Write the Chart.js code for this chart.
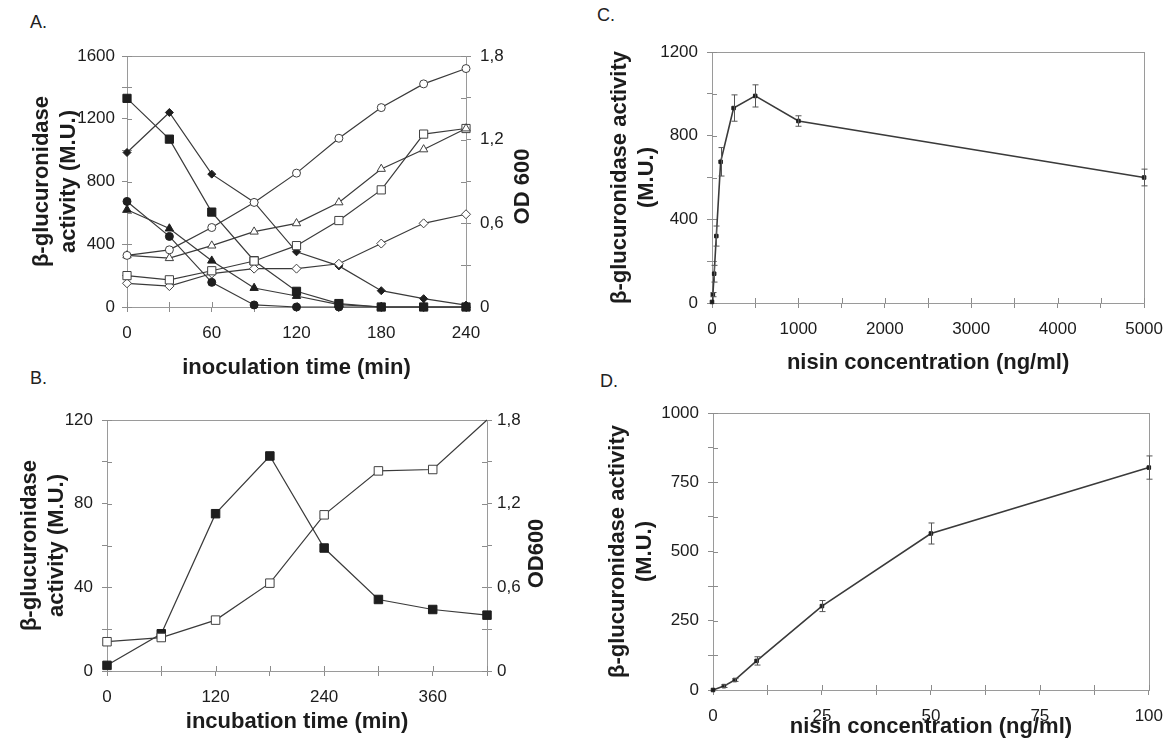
<!DOCTYPE html>
<html><head><meta charset="utf-8">
<script src="https://cdn.jsdelivr.net/npm/chart.js@4/dist/chart.umd.min.js"></script>
<style>
html,body{margin:0;padding:0;background:#fff;overflow:hidden;width:1174px;height:743px;position:relative;}
canvas{position:absolute;}
.lbl{position:absolute;font-family:'Liberation Sans',Arial,sans-serif;font-size:18px;color:#222;line-height:1;}
</style></head><body>
<div class="lbl" style="left:30px;top:13px">A.</div>
<div class="lbl" style="left:30px;top:369px">B.</div>
<div class="lbl" style="left:597px;top:6px">C.</div>
<div class="lbl" style="left:600px;top:372px">D.</div>
<canvas id="cA" width="580" height="380" style="left:0;top:0;width:580px;height:380px"></canvas>
<canvas id="cB" width="580" height="363" style="left:0;top:380px;width:580px;height:363px"></canvas>
<canvas id="cC" width="594" height="380" style="left:580px;top:0;width:594px;height:380px"></canvas>
<canvas id="cD" width="594" height="363" style="left:580px;top:380px;width:594px;height:363px"></canvas>
<script>
// ---------- DATA ----------
const timeA = [0, 30, 60, 90, 120, 150, 180, 210, 240];
const actSquareA   = [1330, 1070, 605, 295, 100, 22, 0, 0, 0];
const actDiamondA  = [985, 1240, 847, 668, 352, 262, 104, 53, 12];
const actCircleA   = [673, 450, 157, 13, 0, 0, 0, 0, 0];
const actTriangleA = [620, 500, 295, 121, 70, 15, 0, 0, 0];
const odCircleA    = [0.37, 0.41, 0.57, 0.75, 0.96, 1.21, 1.43, 1.60, 1.71];
const odTriangleA  = [0.37, 0.35, 0.44, 0.54, 0.60, 0.75, 0.99, 1.13, 1.28];
const odSquareA    = [0.225, 0.195, 0.26, 0.33, 0.44, 0.62, 0.84, 1.24, 1.28];
const odDiamondA   = [0.17, 0.15, 0.24, 0.275, 0.275, 0.31, 0.455, 0.60, 0.665];

const timeB = [0, 60, 120, 180, 240, 300, 360, 420];
const actB  = [2.7, 17.8, 75.2, 102.8, 58.8, 34.2, 29.4, 26.7];
const odB   = [0.21, 0.24, 0.365, 0.63, 1.12, 1.435, 1.445, 1.8];

const concC = [0, 10, 25, 50, 100, 250, 500, 1000, 5000];
const actC  = [5, 40, 140, 320, 675, 932, 990, 870, 600];
const errC  = [0, 10, 40, 48, 68, 63, 53, 25, 40];

const concD = [0, 2.5, 5, 10, 25, 50, 100];
const actD  = [0, 14, 36, 105, 303, 565, 803];
const errD  = [0, 5, 5, 15, 20, 38, 42];

const titleActLong = ['β-glucuronidase', 'activity (M.U.)'];
const titleActWide = ['β-glucuronidase activity', '(M.U.)'];
const titleXA = 'inoculation time (min)';
const titleXB = 'incubation time (min)';
const titleXCD = 'nisin concentration (ng/ml)';
const titleOD_A = 'OD 600';
const titleOD_B = 'OD600';

// ---------- STYLE ----------
const FONT = "'Liberation Sans', Arial, Helvetica, sans-serif";
const AXIS = '#8c8c8c';
const TXT = '#1c1c1c';
const LINE = '#3a3a3a';
const tickFont = {family: FONT, size: 17};
const titleFont = {family: FONT, size: 22, weight: 'bold', lineHeight: 1.25};
const xTitleFont = {family: FONT, size: 22, weight: 'bold', lineHeight: 1};

function fmtComma(v) {
  const r = Math.round(v * 10) / 10;
  return r === 0 ? '0' : r.toFixed(1).replace('.', ',');
}
function xy(xs, ys) { return xs.map((x, i) => ({x: x, y: ys[i]})); }

function vScale(o) {
  return {
    type: 'linear', position: o.position, min: o.min, max: o.max,
    grid: {display: true, drawOnChartArea: false, drawTicks: true, tickLength: 5, color: AXIS},
    border: {display: true, color: AXIS, width: 1},
    ticks: {stepSize: o.step, autoSkip: false, font: tickFont, color: TXT, padding: o.pad,
      callback: o.cb},
    title: o.title ? {display: true, text: o.title, font: titleFont, color: TXT,
      padding: {top: o.tpad, bottom: 0}} : {display: false},
    afterFit: s => { s.width = o.width; }
  };
}
function hScale(o) {
  return {
    type: 'linear', position: 'bottom', min: o.min, max: o.max,
    grid: {display: true, drawOnChartArea: false, drawTicks: true, tickLength: 5, color: AXIS},
    border: {display: true, color: AXIS, width: 1},
    ticks: {stepSize: o.step, autoSkip: false, maxRotation: 0, font: tickFont, color: TXT,
      padding: 11, callback: o.cb},
    title: {display: true, text: o.title, font: xTitleFont, color: TXT,
      padding: {top: 0, bottom: o.tpad}},
    afterFit: s => { s.height = o.height; }
  };
}

// ---------- PLUGINS ----------
const frame = {
  id: 'frame',
  beforeDatasetsDraw(chart) {
    const a = chart.chartArea, ctx = chart.ctx;
    ctx.save();
    ctx.strokeStyle = '#9a9a9a'; ctx.lineWidth = 1;
    ctx.strokeRect(Math.round(a.left) + 0.5, Math.round(a.top) + 0.5,
      Math.round(a.right - a.left), Math.round(a.bottom - a.top));
    ctx.strokeStyle = AXIS;
    for (const id in chart.scales) {
      const s = chart.scales[id];
      s.ticks.forEach(t => {
        const p = Math.round(s.getPixelForValue(t.value)) + 0.5;
        ctx.beginPath();
        if (s.isHorizontal()) { ctx.moveTo(p, a.bottom); ctx.lineTo(p, a.bottom - 5); }
        else if (s.position === 'left') { ctx.moveTo(a.left, p); ctx.lineTo(a.left + 5, p); }
        else { ctx.moveTo(a.right, p); ctx.lineTo(a.right - 5, p); }
        ctx.stroke();
      });
    }
    ctx.restore();
  }
};
const rightTitle = {
  id: 'rightTitle',
  afterDraw(chart, args, opts) {
    if (!opts || !opts.text) return;
    const a = chart.chartArea, ctx = chart.ctx;
    ctx.save();
    ctx.translate(a.right + opts.dx, (a.top + a.bottom) / 2 + opts.dy);
    ctx.rotate(-Math.PI / 2);
    ctx.font = 'bold 22px ' + FONT;
    ctx.fillStyle = TXT;
    ctx.textAlign = 'center'; ctx.textBaseline = 'middle';
    ctx.fillText(opts.text, 0, 0);
    ctx.restore();
  }
};
const errorBars = {
  id: 'errorBars',
  afterDatasetsDraw(chart) {
    const ctx = chart.ctx;
    chart.data.datasets.forEach((ds, di) => {
      if (!ds.errors) return;
      const meta = chart.getDatasetMeta(di);
      const ys = chart.scales[meta.yAxisID];
      ctx.save();
      ctx.strokeStyle = '#555'; ctx.lineWidth = 1;
      meta.data.forEach((pt, i) => {
        const e = ds.errors[i];
        if (!e) return;
        const v = ds.data[i].y;
        const y1 = ys.getPixelForValue(v - e), y2 = ys.getPixelForValue(v + e);
        const x = Math.round(pt.x) + 0.5;
        ctx.beginPath();
        ctx.moveTo(x, y1); ctx.lineTo(x, y2);
        ctx.moveTo(x - 3, y1); ctx.lineTo(x + 3, y1);
        ctx.moveTo(x - 3, y2); ctx.lineTo(x + 3, y2);
        ctx.stroke();
      });
      ctx.restore();
    });
  }
};

function lineDs(data, style, axis, filled, radius, order, extra) {
  return Object.assign({
    data: data, yAxisID: axis, borderColor: LINE, borderWidth: 1.2,
    pointStyle: style, pointRadius: radius,
    pointBackgroundColor: filled ? '#1e1e1e' : '#ffffff',
    pointBorderColor: filled ? '#1e1e1e' : '#404040',
    pointBorderWidth: 1, tension: 0, fill: false, clip: false, order: order
  }, extra || {});
}

const common = {
  responsive: false, animation: false, devicePixelRatio: 1,
  plugins: {legend: {display: false}, tooltip: {enabled: false}}
};

// ---------- PANEL A ----------
new Chart(document.getElementById('cA'), {
  type: 'line',
  data: {datasets: [
    lineDs(xy(timeA, odCircleA), 'circle', 'y2', false, 4, 0),
    lineDs(xy(timeA, odTriangleA), 'triangle', 'y2', false, 4.8, 0),
    lineDs(xy(timeA, odSquareA), 'rect', 'y2', false, 5.8, 0),
    lineDs(xy(timeA, odDiamondA), 'rectRot', 'y2', false, 4.5, 0),
    lineDs(xy(timeA, actSquareA), 'rect', 'y', true, 5.8, 1),
    lineDs(xy(timeA, actDiamondA), 'rectRot', 'y', true, 4, 1),
    lineDs(xy(timeA, actCircleA), 'circle', 'y', true, 4, 1),
    lineDs(xy(timeA, actTriangleA), 'triangle', 'y', true, 4.8, 1)
  ]},
  options: Object.assign({}, common, {
    layout: {padding: {top: 56, left: 0, right: 0, bottom: 0}},
    scales: {
      x: hScale({min: 0, max: 240, step: 30, height: 73, title: titleXA, tpad: 1,
        cb: v => (v % 60 === 0 ? v : '')}),
      y: vScale({position: 'left', min: 0, max: 1600, step: 200, width: 127, pad: 7,
        title: titleActLong, tpad: 28, cb: v => (v % 400 === 0 ? v : '')}),
      y2: vScale({position: 'right', min: 0, max: 1.8, step: 0.3, width: 114, pad: 9,
        cb: v => (Math.round(v * 10) % 6 === 0 ? fmtComma(v) : '')})
    },
    plugins: Object.assign({}, common.plugins, {rightTitle: {text: titleOD_A, dx: 57, dy: 5}})
  }),
  plugins: [frame, rightTitle]
});

// ---------- PANEL B ----------
new Chart(document.getElementById('cB'), {
  type: 'line',
  data: {datasets: [
    lineDs(xy(timeB, odB), 'rect', 'y2', false, 6, 0, {pointRadius: [6, 6, 6, 6, 6, 6, 6, 0]}),
    lineDs(xy(timeB, actB), 'rect', 'y', true, 6, 1)
  ]},
  options: Object.assign({}, common, {
    layout: {padding: {top: 40, left: 0, right: 0, bottom: 0}},
    scales: {
      x: hScale({min: 0, max: 420, step: 60, height: 72, title: titleXB, tpad: 10,
        cb: v => (v % 120 === 0 ? v : '')}),
      y: vScale({position: 'left', min: 0, max: 120, step: 20, width: 107, pad: 9,
        title: titleActLong, tpad: 16, cb: v => (v % 40 === 0 ? v : '')}),
      y2: vScale({position: 'right', min: 0, max: 1.8, step: 0.3, width: 93, pad: 5,
        cb: v => (Math.round(v * 10) % 6 === 0 ? fmtComma(v) : '')})
    },
    plugins: Object.assign({}, common.plugins, {rightTitle: {text: titleOD_B, dx: 50, dy: 8}})
  }),
  plugins: [frame, rightTitle]
});

// ---------- PANEL C ----------
new Chart(document.getElementById('cC'), {
  type: 'line',
  data: {datasets: [
    lineDs(xy(concC, actC), 'rect', 'y', true, 2.5, 0, {borderWidth: 1.6, errors: errC})
  ]},
  options: Object.assign({}, common, {
    layout: {padding: {top: 52, left: 0, right: 24, bottom: 0}},
    scales: {
      x: hScale({min: 0, max: 5000, step: 500, height: 77, title: titleXCD, tpad: 6,
        cb: v => (v % 1000 === 0 ? v : '')}),
      y: vScale({position: 'left', min: 0, max: 1200, step: 200, width: 132, pad: 9,
        title: titleActWide, tpad: 26, cb: v => (v % 400 === 0 ? v : '')})
    }
  }),
  plugins: [frame, errorBars]
});

// ---------- PANEL D ----------
new Chart(document.getElementById('cD'), {
  type: 'line',
  data: {datasets: [
    lineDs(xy(concD, actD), 'rect', 'y', true, 2.5, 0, {borderWidth: 1.6, errors: errD})
  ]},
  options: Object.assign({}, common, {
    layout: {padding: {top: 33, left: 0, right: 24, bottom: 0}},
    scales: {
      x: hScale({min: 0, max: 100, step: 12.5, height: 53, title: titleXCD, tpad: 5,
        cb: v => (v % 25 === 0 ? v : '')}),
      y: vScale({position: 'left', min: 0, max: 1000, step: 125, width: 133, pad: 9,
        title: titleActWide, tpad: 24, cb: v => (v % 250 === 0 ? v : '')})
    }
  }),
  plugins: [frame, errorBars]
});
</script>
</body></html>
